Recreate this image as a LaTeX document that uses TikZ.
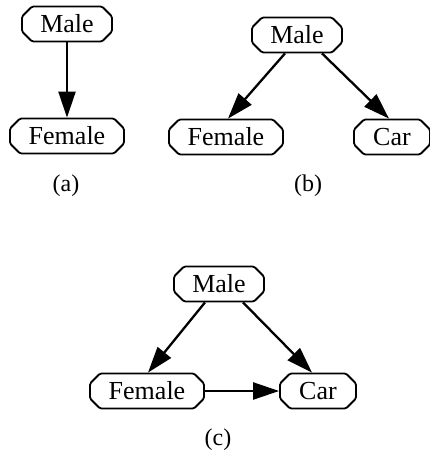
\documentclass[tikz,border=0pt]{standalone}
\usepackage{fontspec}
\setmainfont{Liberation Serif}
\usetikzlibrary{shapes.misc,arrows.meta,calc}
\begin{document}
\begin{tikzpicture}[x=1pt,y=-1pt,
  vbox/.style={chamfered rectangle, chamfered rectangle xsep=5pt, chamfered rectangle ysep=5pt,
    draw, line width=1.8pt, rounded corners=1.5pt, inner sep=0pt, minimum height=35pt,
    font=\fontsize{26}{30}\selectfont},
  wmale/.style={minimum width=90pt},
  wfemale/.style={minimum width=114pt},
  wcar/.style={minimum width=76pt},
  edge/.style={line width=2.3pt, -{Triangle[length=26pt,width=17pt]}},
  sublabel/.style={font=\fontsize{24}{28}\selectfont, inner sep=0pt}]
\useasboundingbox (0,0) rectangle (430,450);
% (a)
\node[vbox,wmale] (ma) at (67,24) {Male};
\node[vbox,wfemale] (fa) at (67,136) {Female};
\node[sublabel] (la) at (66,186) {(a)};
\draw[edge] (ma.south) -- (fa.north);
% (b)
\node[vbox,wmale] (mb) at (297,35) {Male};
\node[vbox,wfemale] (fb) at (226,137) {Female};
\node[vbox,wcar] (cb) at (392,137) {Car};
\node[sublabel] (lb) at (308,186) {(b)};
\draw[edge] ($(mb.south)+(-12,0)$) -- ($(fb.north)+(2,0)$);
\draw[edge] ($(mb.south)+(25,0)$) -- ($(cb.north)+(-3,0)$);
% (c)
\node[vbox,wmale] (mc) at (219,284) {Male};
\node[vbox,wfemale] (fc) at (147,391) {Female};
\node[vbox,wcar] (cc) at (318,391) {Car};
\node[sublabel] (lc) at (218,440) {(c)};
\draw[edge] ($(mc.south)+(-14,0)$) -- ($(fc.north)+(1,0)$);
\draw[edge] ($(mc.south)+(24,0)$) -- ($(cc.north)+(-6,0)$);
\draw[edge] (fc.east) -- (cc.west);
\end{tikzpicture}
\end{document}
